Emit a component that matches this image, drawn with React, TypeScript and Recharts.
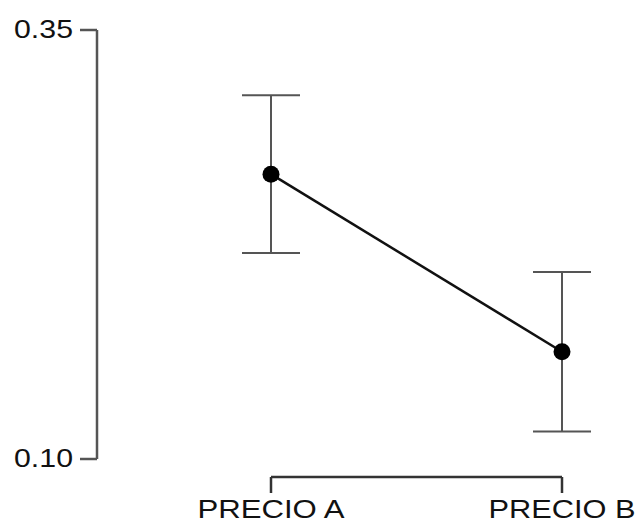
import { LineChart, Line, XAxis, YAxis, ErrorBar, ReferenceLine } from 'recharts'

const categories = ['PRECIO A', 'PRECIO B']
const means = [0.266, 0.1625]
const errors = [0.046, 0.0465]
const yTicks = [0.1, 0.35]
const bracketLevel = 0.0895

const data = categories.map((name, i) => ({ name, mean: means[i], err: errors[i] }))

const font = '"Liberation Sans", Arial, sans-serif'

function XTick(props: any) {
  const { x, y, payload } = props
  return (
    <g>
      <line x1={x} y1={y + 18} x2={x} y2={y + 34} stroke="#333" strokeWidth={2.5} />
      <text
        x={x}
        y={y + 59}
        textAnchor="middle"
        fontSize={25}
        fontFamily={font}
        fill="#111"
        textLength={147}
        lengthAdjust="spacingAndGlyphs"
      >
        {payload.value}
      </text>
    </g>
  )
}

function YTick(props: any) {
  const { x, y, payload } = props
  return (
    <text
      x={x}
      y={y - 1.5}
      textAnchor="end"
      dominantBaseline="central"
      fontSize={25}
      fontFamily={font}
      fill="#111"
      textLength={59}
      lengthAdjust="spacingAndGlyphs"
    >
      {Number(payload.value).toFixed(2)}
    </text>
  )
}

export default function App() {
  return (
    <div style={{ position: 'absolute', left: 0, top: 0, width: 638, height: 522, background: '#fff' }}>
      <LineChart
        width={638}
        height={522}
        data={data}
        margin={{ top: 30, right: 76, bottom: 0, left: 0 }}
      >
        <XAxis
          dataKey="name"
          height={63}
          padding={{ left: 174, right: 0 }}
          axisLine={false}
          tickLine={false}
          tickSize={0}
          tickMargin={0}
          tick={<XTick />}
          interval={0}
        />
        <YAxis
          width={97}
          domain={[0.1, 0.35]}
          ticks={yTicks}
          allowDataOverflow
          axisLine={{ stroke: '#555', strokeWidth: 2.5 }}
          tickLine={{ stroke: '#555', strokeWidth: 2.5 }}
          tickSize={17}
          tickMargin={7}
          tick={<YTick />}
        />
        <ReferenceLine
          segment={[
            { x: categories[0], y: bracketLevel },
            { x: categories[categories.length - 1], y: bracketLevel },
          ]}
          stroke="#333"
          strokeWidth={2.5}
          ifOverflow="visible"
        />
        <Line
          dataKey="mean"
          stroke="#111"
          strokeWidth={2.5}
          dot={{ r: 8.5, fill: '#000', stroke: 'none' }}
          activeDot={false}
          isAnimationActive={false}
        >
          <ErrorBar dataKey="err" width={29} stroke="#555" strokeWidth={2} direction="y" />
        </Line>
      </LineChart>
    </div>
  )
}
